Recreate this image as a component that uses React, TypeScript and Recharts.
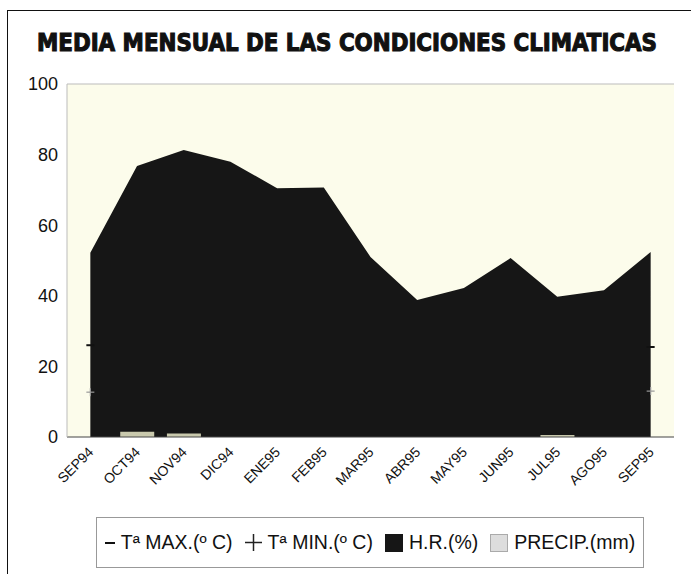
import React from "react";
import {
  Area,
  Bar,
  CartesianGrid,
  ComposedChart,
  Line,
  ReferenceLine,
  XAxis,
  YAxis,
} from "recharts";

const months = [
  "SEP94", "OCT94", "NOV94", "DIC94", "ENE95", "FEB95", "MAR95",
  "ABR95", "MAY95", "JUN95", "JUL95", "AGO95", "SEP95",
];
// humedad relativa (%)
const humedad = [52.2, 76.8, 81.3, 78.0, 70.5, 70.7, 51.0, 38.8, 42.2, 50.7, 39.7, 41.6, 52.4];
// precipitación (mm)
const precip = [0, 1.5, 1.0, 0, 0, 0, 0, 0, 0, 0, 0.6, 0, 0];
// temperaturas: solo se ven los extremos, el resto queda tapado por H.R.
const tMax = [26, null, null, null, null, null, null, null, null, null, null, null, 25.5];
const tMin = [12.7, null, null, null, null, null, null, null, null, null, null, null, 13];
const yTicks = [0, 20, 40, 60, 80, 100];

const data = months.map((m, i) => ({
  mes: m,
  hr: humedad[i],
  precip: precip[i],
  tmax: tMax[i],
  tmin: tMin[i],
}));

const FONT = "'Liberation Sans', Arial, sans-serif";

function MonthTick({ x, y, payload }: any) {
  return (
    <g transform={`translate(${x + 4},${y + 8})`}>
      <text
        textAnchor="end"
        transform="rotate(-45)"
        fontSize={14}
        fontFamily={FONT}
        fill="#111"
      >
        {payload.value}
      </text>
    </g>
  );
}

function DashDot({ cx, cy, index }: any) {
  if (cy == null || cx == null) return <g key={index} />;
  return <line key={index} x1={cx - 4} x2={cx + 4} y1={cy} y2={cy} stroke="#111" strokeWidth={2} />;
}

function PlusDot({ cx, cy, index }: any) {
  if (cy == null || cx == null) return <g key={index} />;
  return (
    <g key={index} stroke="#999" strokeWidth={1.2}>
      <line x1={cx - 4} x2={cx + 4} y1={cy} y2={cy} />
      <line x1={cx} x2={cx} y1={cy - 4} y2={cy + 4} />
    </g>
  );
}

function LegendBox() {
  const item = { display: "flex", alignItems: "center", gap: 6 } as const;
  return (
    <div
      style={{
        position: "absolute",
        left: 96,
        top: 517,
        width: 548,
        height: 51,
        boxSizing: "border-box",
        border: "1px solid #999",
        display: "flex",
        alignItems: "center",
        justifyContent: "center",
        gap: 12,
        fontFamily: FONT,
        fontSize: 19.5,
        color: "#111",
        background: "#fff",
      }}
    >
      <div style={item}>
        <svg width={10} height={14}><line x1={0} x2={10} y1={7} y2={7} stroke="#111" strokeWidth={2} /></svg>
        <span>Tª MAX.(º C)</span>
      </div>
      <div style={item}>
        <svg width={17} height={17} stroke="#222" strokeWidth={1.5}>
          <line x1={0} x2={17} y1={8.5} y2={8.5} />
          <line x1={8.5} x2={8.5} y1={0} y2={17} />
        </svg>
        <span>Tª MIN.(º C)</span>
      </div>
      <div style={item}>
        <svg width={18} height={18}><rect width={18} height={18} fill="#161616" /></svg>
        <span>H.R.(%)</span>
      </div>
      <div style={item}>
        <svg width={18} height={18}><rect x={0.5} y={0.5} width={17} height={17} fill="#ddd" stroke="#aaa" /></svg>
        <span>PRECIP.(mm)</span>
      </div>
    </div>
  );
}

export default function App() {
  return (
    <div style={{ position: "absolute", left: 0, top: 0, width: 691, height: 574, background: "#fff" }}>
      <div
        style={{
          position: "absolute",
          left: 7,
          top: 10,
          width: 690,
          height: 570,
          border: "1.5px solid #111",
          boxSizing: "border-box",
        }}
      />
      <svg style={{ position: "absolute", left: 0, top: 0 }} width={691} height={80}>
        <text
          x={37}
          y={51}
          textLength={620}
          lengthAdjust="spacingAndGlyphs"
          fontFamily="'DejaVu Sans Condensed', 'DejaVu Sans', sans-serif"
          fontWeight="bold"
          fontSize={25}
          fill="#111"
          stroke="#111"
          strokeWidth={1.1}
        >
          MEDIA MENSUAL DE LAS CONDICIONES CLIMATICAS
        </text>
      </svg>
      <div style={{ position: "absolute", left: 0, top: 0 }}>
        <ComposedChart
          width={691}
          height={574}
          data={data}
          margin={{ top: 84, right: 17, left: 7, bottom: 77 }}
          barCategoryGap="14%"
        >
          <CartesianGrid horizontal={false} vertical={false} fill="#fcfceb" yAxisId="l" />
          <XAxis
            dataKey="mes"
            height={60}
            interval={0}
            tick={<MonthTick />}
            tickLine={false}
            axisLine={{ stroke: "#444" }}
          />
          <YAxis
            yAxisId="l"
            width={60}
            domain={[0, 100]}
            ticks={yTicks}
            tickLine={false}
            tickSize={6}
            tickMargin={3}
            axisLine={{ stroke: "#bbb" }}
            tick={{ fontSize: 18, fontFamily: FONT, fill: "#111" }}
          />
          <YAxis
            yAxisId="r"
            orientation="right"
            width={0}
            domain={[0, 100]}
            tick={false}
            tickLine={false}
            axisLine={{ stroke: "#bbb" }}
          />
          <ReferenceLine yAxisId="l" y={100} stroke="#bbb" />
          <Line
            yAxisId="l"
            dataKey="tmax"
            stroke="#111"
            dot={<DashDot />}
            isAnimationActive={false}
          />
          <Line
            yAxisId="l"
            dataKey="tmin"
            stroke="#999"
            dot={<PlusDot />}
            isAnimationActive={false}
          />
          <Area
            yAxisId="l"
            type="linear"
            dataKey="hr"
            stroke="none"
            fill="#161616"
            fillOpacity={1}
            isAnimationActive={false}
          />
          <Bar yAxisId="l" dataKey="precip" fill="#c9c9ad" isAnimationActive={false} />
        </ComposedChart>
      </div>
      <LegendBox />
    </div>
  );
}
